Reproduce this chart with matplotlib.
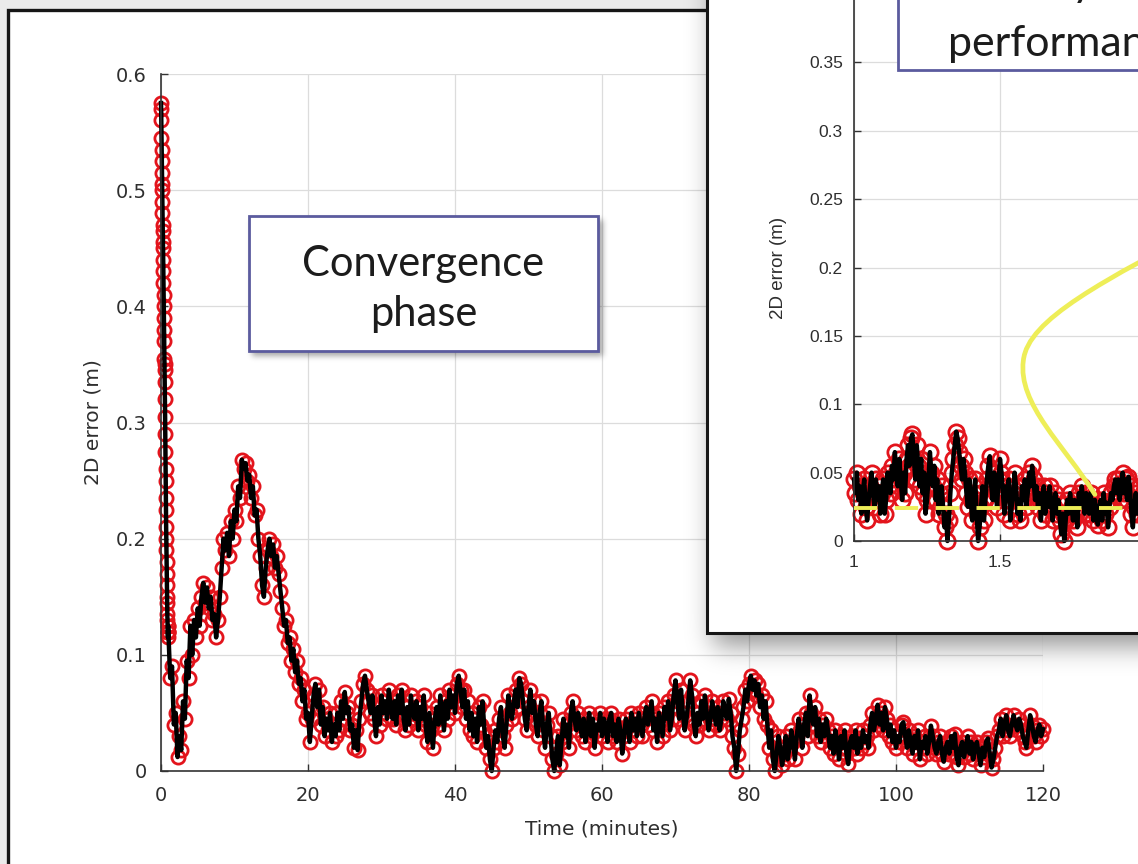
import numpy as np
import matplotlib
matplotlib.use("Agg")
import matplotlib.pyplot as plt
from matplotlib.patches import Rectangle, PathPatch
from matplotlib.path import Path

W, H = 1138, 864

# 2D error (m): start-up spike, one sample every 0.02 min
spike_err = [0.575, 0.57, 0.56, 0.545, 0.535, 0.525, 0.515, 0.505, 0.5, 0.49,
             0.48, 0.47, 0.465, 0.455, 0.45, 0.44, 0.43, 0.42, 0.41, 0.4,
             0.39, 0.38, 0.37, 0.355, 0.35, 0.345, 0.335, 0.32, 0.305, 0.29,
             0.275, 0.26, 0.25, 0.235, 0.225, 0.21, 0.2, 0.19, 0.18, 0.17,
             0.16, 0.15, 0.145, 0.135, 0.13, 0.125, 0.12, 0.115, 0.12, 0.125]

# 2D error (m) from t = 1 min onwards, one sample every 0.25 min
track_err = [
    0.12, 0.08, 0.09, 0.04, 0.05, 0.012, 0.03, 0.018, 0.06, 0.045,
    0.095, 0.08, 0.125, 0.1, 0.13, 0.115, 0.14, 0.125, 0.15, 0.162,
    0.145, 0.158, 0.14, 0.15, 0.13, 0.135, 0.115, 0.13, 0.15, 0.175,
    0.2, 0.19, 0.205, 0.185, 0.215, 0.2, 0.225, 0.215, 0.245, 0.235,
    0.268, 0.26, 0.265, 0.25, 0.255, 0.235, 0.245, 0.22, 0.225, 0.2,
    0.185, 0.16, 0.15, 0.175, 0.19, 0.2, 0.185, 0.195, 0.175, 0.185,
    0.17, 0.155, 0.14, 0.125, 0.13, 0.11, 0.115, 0.095, 0.105, 0.085,
    0.095, 0.075, 0.08, 0.06, 0.07, 0.045, 0.05, 0.025, 0.045, 0.065,
    0.075, 0.055, 0.07, 0.04, 0.055, 0.03, 0.045, 0.035, 0.05, 0.025,
    0.04, 0.03, 0.05, 0.035, 0.06, 0.045, 0.068, 0.05, 0.055, 0.035,
    0.04, 0.02, 0.035, 0.018, 0.045, 0.06, 0.075, 0.082, 0.07, 0.06,
    0.05, 0.065, 0.045, 0.03, 0.055, 0.04, 0.065, 0.05, 0.06, 0.045,
    0.07, 0.055, 0.045, 0.06, 0.04, 0.065, 0.05, 0.07, 0.045, 0.035,
    0.055, 0.04, 0.065, 0.05, 0.045, 0.06, 0.035, 0.055, 0.045, 0.065,
    0.04, 0.025, 0.05, 0.035, 0.02, 0.045, 0.055, 0.04, 0.065, 0.05,
    0.035, 0.06, 0.045, 0.07, 0.055, 0.065, 0.05, 0.075, 0.082, 0.07,
    0.055, 0.07, 0.045, 0.06, 0.035, 0.05, 0.03, 0.045, 0.025, 0.055,
    0.04, 0.06, 0.035, 0.02, 0.03, 0.01, 0.0, 0.02, 0.035, 0.025,
    0.045, 0.055, 0.03, 0.02, 0.04, 0.065, 0.05, 0.045, 0.06, 0.07,
    0.055, 0.08, 0.075, 0.06, 0.045, 0.035, 0.055, 0.07, 0.05, 0.06,
    0.04, 0.03, 0.05, 0.06, 0.035, 0.02, 0.04, 0.05, 0.03, 0.01,
    0.0, 0.015, 0.03, 0.005, 0.025, 0.045, 0.03, 0.04, 0.02, 0.05,
    0.06, 0.045, 0.035, 0.05, 0.04, 0.03, 0.045, 0.025, 0.035, 0.05,
    0.03, 0.045, 0.02, 0.04, 0.035, 0.05, 0.03, 0.045, 0.04, 0.025,
    0.045, 0.05, 0.03, 0.04, 0.025, 0.045, 0.035, 0.015, 0.03, 0.045,
    0.04, 0.025, 0.05, 0.035, 0.045, 0.03, 0.05, 0.04, 0.03, 0.045,
    0.055, 0.04, 0.05, 0.06, 0.035, 0.045, 0.025, 0.05, 0.04, 0.03,
    0.055, 0.045, 0.06, 0.035, 0.045, 0.065, 0.078, 0.06, 0.045, 0.07,
    0.05, 0.035, 0.045, 0.06, 0.078, 0.065, 0.04, 0.03, 0.05, 0.04,
    0.06, 0.045, 0.065, 0.05, 0.035, 0.045, 0.06, 0.05, 0.04, 0.055,
    0.035, 0.045, 0.06, 0.05, 0.045, 0.062, 0.05, 0.03, 0.02, 0.0,
    0.015, 0.035, 0.045, 0.055, 0.07, 0.06, 0.075, 0.082, 0.07, 0.078,
    0.065, 0.075, 0.055, 0.065, 0.045, 0.06, 0.04, 0.02, 0.035, 0.01,
    0.0, 0.015, 0.03, 0.02, 0.005, 0.015, 0.03, 0.01, 0.02, 0.035,
    0.025, 0.01, 0.03, 0.045, 0.035, 0.02, 0.04, 0.05, 0.03, 0.065,
    0.05, 0.04, 0.055, 0.03, 0.045, 0.025, 0.04, 0.03, 0.045, 0.035,
    0.02, 0.03, 0.015, 0.035, 0.025, 0.01, 0.03, 0.02, 0.035, 0.015,
    0.006, 0.025, 0.03, 0.02, 0.035, 0.015, 0.028, 0.02, 0.035, 0.025,
    0.03, 0.02, 0.04, 0.05, 0.035, 0.045, 0.057, 0.04, 0.05, 0.035,
    0.055, 0.045, 0.03, 0.04, 0.025, 0.035, 0.02, 0.03, 0.025, 0.04,
    0.042, 0.03, 0.02, 0.035, 0.025, 0.015, 0.03, 0.02, 0.035, 0.01,
    0.025, 0.02, 0.03, 0.015, 0.025, 0.039, 0.03, 0.02, 0.015, 0.025,
    0.03, 0.015, 0.008, 0.02, 0.025, 0.015, 0.03, 0.02, 0.032, 0.012,
    0.005, 0.02, 0.025, 0.012, 0.02, 0.03, 0.015, 0.025, 0.01, 0.02,
    0.025, 0.015, 0.005, 0.02, 0.012, 0.025, 0.028, 0.015, 0.003, 0.01,
    0.02, 0.03, 0.035, 0.045, 0.03, 0.04, 0.048, 0.035, 0.03, 0.04,
    0.048, 0.04, 0.035, 0.045, 0.04, 0.03, 0.025, 0.02, 0.035, 0.048,
    0.04, 0.03, 0.025, 0.035, 0.04, 0.03, 0.036]

# zoomed steady-state window, one sample every 0.005 from 1.0
zoom_err = [
    0.045, 0.035, 0.05, 0.03, 0.04, 0.02, 0.035, 0.045, 0.025, 0.015,
    0.03, 0.04, 0.05, 0.035, 0.025, 0.045, 0.03, 0.04, 0.02, 0.035,
    0.045, 0.02, 0.03, 0.05, 0.04, 0.035, 0.055, 0.045, 0.065, 0.05,
    0.04, 0.06, 0.045, 0.03, 0.05, 0.035, 0.06, 0.07, 0.055, 0.075,
    0.078, 0.06, 0.045, 0.07, 0.055, 0.04, 0.06, 0.035, 0.05, 0.02,
    0.03, 0.045, 0.065, 0.05, 0.04, 0.055, 0.03, 0.045, 0.02, 0.035,
    0.04, 0.025, 0.01, 0.02, 0.0, 0.015, 0.035, 0.05, 0.06, 0.07,
    0.08, 0.075, 0.065, 0.055, 0.045, 0.06, 0.05, 0.035, 0.025, 0.045,
    0.03, 0.015, 0.035, 0.045, 0.02, 0.0, 0.01, 0.025, 0.04, 0.015,
    0.03, 0.045, 0.055, 0.062, 0.04, 0.03, 0.05, 0.035, 0.025, 0.045,
    0.06, 0.05, 0.035, 0.02, 0.04, 0.03, 0.045, 0.015, 0.025, 0.035,
    0.05, 0.04, 0.02, 0.03, 0.015, 0.04, 0.03, 0.045, 0.025, 0.035,
    0.05, 0.04, 0.055, 0.045, 0.03, 0.04, 0.025, 0.035, 0.015, 0.03,
    0.04, 0.02, 0.035, 0.025, 0.04, 0.03, 0.015, 0.025, 0.035, 0.02,
    0.03, 0.015, 0.005, 0.02, 0.0, 0.015, 0.03, 0.02, 0.035, 0.025,
    0.015, 0.03, 0.02, 0.01, 0.035, 0.025, 0.04, 0.03, 0.02, 0.035,
    0.03, 0.02, 0.035, 0.025, 0.015, 0.03, 0.02, 0.012, 0.025, 0.03,
    0.015, 0.035, 0.02, 0.028, 0.01, 0.025, 0.035, 0.03, 0.04, 0.045,
    0.035, 0.045, 0.03, 0.04, 0.05, 0.035, 0.045, 0.03, 0.047, 0.04,
    0.02, 0.01, 0.025, 0.035, 0.02, 0.03, 0.04, 0.025, 0.035, 0.04]
steady_mean = 0.024

main_xticks = [0, 20, 40, 60, 80, 100, 120]
main_yticks = [0, 0.1, 0.2, 0.3, 0.4, 0.5, 0.6]
zoom_xticks = [1, 1.5, 2, 2.5]
zoom_yticks = [0, 0.05, 0.1, 0.15, 0.2, 0.25, 0.3, 0.35, 0.4]

t_main = np.concatenate([0.02 * np.arange(len(spike_err)),
                         1.0 + 0.25 * np.arange(len(track_err))])
e_main = np.concatenate([spike_err, track_err])
t_zoom = 1.0 + 0.005 * np.arange(len(zoom_err))

MAIN_FONT = 'DejaVu Sans'
ZOOM_FONT = 'Liberation Sans'
BOX_FONT = 'Lato'
BOX_EDGE = '#5b5b9e'
RED = '#e3141c'
YELLOW = '#eeee58'
TXT = '#2e2e2e'


def px_axes(x0, y0, x1, y1, **kw):
    """Axes placed by pixel box (top-left origin)."""
    return fig.add_axes([x0 / W, 1 - y1 / H, (x1 - x0) / W, (y1 - y0) / H], **kw)


def style(ax, xticks, yticks, family, fs, xpad, ypad):
    ax.set_xticks(xticks)
    ax.set_yticks(yticks)
    ax.set_xticklabels([f'{v:g}' for v in xticks], family=family, fontsize=fs, color=TXT)
    ax.set_yticklabels([f'{v:g}' for v in yticks], family=family, fontsize=fs, color=TXT)
    for s in ('top', 'right'):
        ax.spines[s].set_visible(False)
    for s in ('left', 'bottom'):
        ax.spines[s].set_color('#333333')
        ax.spines[s].set_linewidth(1.2)
    ax.tick_params(direction='in', length=5, width=1, color='#333333')
    ax.tick_params(axis='y', pad=ypad)
    ax.tick_params(axis='x', pad=xpad)
    ax.grid(True, color='#dcdcdc', lw=0.9)
    ax.set_axisbelow(True)


def blur(mask, sigma):
    r = int(3 * sigma)
    k = np.exp(-0.5 * (np.arange(-r, r + 1) / sigma) ** 2)
    k /= k.sum()
    out = np.apply_along_axis(lambda m: np.convolve(m, k, mode='same'), 0, mask)
    return np.apply_along_axis(lambda m: np.convolve(m, k, mode='same'), 1, out)


def soft_shadow(x0, y0, x1, y1, sigma, M=90):
    m = np.zeros((H + 2 * M, W + 2 * M))
    m[max(y0 + M, 0):min(y1 + M, H + 2 * M), max(x0 + M, 0):min(x1 + M, W + 2 * M)] = 1
    return blur(m, sigma)[M:M + H, M:M + W]


fig = plt.figure(figsize=(W / 100, H / 100), dpi=100, facecolor='#ebebeb')

# page frame
bg = fig.add_axes([0, 0, 1, 1], zorder=0)
bg.set_xlim(0, W)
bg.set_ylim(H, 0)
bg.axis('off')
bg.add_patch(Rectangle((8, 10), 1300, 1000, fc='white', ec='#161616', lw=2.4))

# main error trace
ax = px_axes(161, 74, 1043, 771, zorder=1)
ax.plot(t_main, e_main, ls='none', marker='o', ms=9.5, mfc='none', mec=RED, mew=2.0, clip_on=False)
ax.plot(t_main, e_main, color='black', lw=3.2, clip_on=False)
ax.set_xlim(0, 120)
ax.set_ylim(0, 0.6)
style(ax, main_xticks, main_yticks, MAIN_FONT, 14, 11, 10)
ax.set_xlabel('Time (minutes)', family=MAIN_FONT, fontsize=14.5, color=TXT, labelpad=10)
ax.set_ylabel('2D error (m)', family=MAIN_FONT, fontsize=14.5, color=TXT, labelpad=10)

# shadows, inset panel and the convergence note
ov = fig.add_axes([0, 0, 1, 1], zorder=2)
alpha = (0.42 * soft_shadow(713, -200, 1400, 646, 13)
         + 0.35 * soft_shadow(252, 220, 603, 356, 3)
         + 0.35 * soft_shadow(901, -200, 1400, 75, 3))
shade = np.zeros((H, W, 4))
shade[..., 3] = np.clip(alpha, 0, 1)
ov.imshow(shade, extent=(0, W, H, 0), zorder=1, interpolation='bilinear')
ov.set_xlim(0, W)
ov.set_ylim(H, 0)
ov.axis('off')
ov.add_patch(Rectangle((707, -40), 700, 673, fc='white', ec='#161616', lw=2.2, zorder=2))
ov.add_patch(Rectangle((249, 216), 349, 135, fc='white', ec=BOX_EDGE, lw=2, zorder=2))
ov.text(423.5, 289, 'Convergence\nphase', ha='center', va='center', family=BOX_FONT,
        fontsize=30, color='#1c1c1c', linespacing=1.38, zorder=3)

# zoomed steady-state view
iax = px_axes(854, -6, 1292, 541, zorder=3)
iax.patch.set_alpha(0)
iax.plot(t_zoom, zoom_err, ls='none', marker='o', ms=11, mfc='none', mec=RED, mew=2.0, clip_on=False)
iax.plot(t_zoom, zoom_err, color='black', lw=3.2, clip_on=False)
iax.axhline(steady_mean, color=YELLOW, lw=2.8, dashes=(6, 4.5), zorder=5)
iax.set_xlim(1, 2.5)
iax.set_ylim(0, 0.4)
style(iax, zoom_xticks, zoom_yticks, ZOOM_FONT, 12.5, 10, 8)
iax.set_ylabel('2D error (m)', family=ZOOM_FONT, fontsize=13.5, color=TXT, labelpad=16)

# curved pointer from the note down to the mean line
pointer = Path([(1.825, 0.034), (1.72, 0.07), (1.56, 0.10), (1.58, 0.132),
                (1.595, 0.162), (1.85, 0.19), (2.25, 0.235)],
               [Path.MOVETO, Path.CURVE4, Path.CURVE4, Path.CURVE4,
                Path.CURVE4, Path.CURVE4, Path.CURVE4])
iax.add_patch(PathPatch(pointer, fc='none', ec=YELLOW, lw=3.4, capstyle='round', zorder=6))

# steady-state note on top of the inset
top = fig.add_axes([0, 0, 1, 1], zorder=4)
top.set_xlim(0, W)
top.set_ylim(H, 0)
top.axis('off')
top.add_patch(Rectangle((898, -60), 600, 130, fc='white', ec=BOX_EDGE, lw=2))
top.text(948, 56, 'performance', ha='left', va='baseline', family=BOX_FONT,
         fontsize=31, color='#1c1c1c')
top.text(1085, -4, 'Steady-state', ha='center', va='baseline', family=BOX_FONT,
         fontsize=31, color='#1c1c1c')

fig.savefig('out.png', dpi=100, facecolor=fig.get_facecolor())
